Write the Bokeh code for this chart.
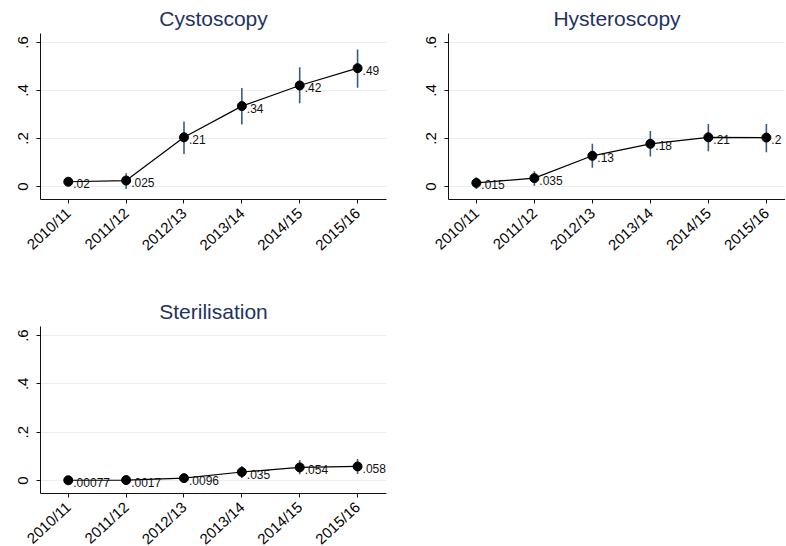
from math import pi
from bokeh.plotting import figure
from bokeh.layouts import column, row
from bokeh.models import Range1d, FixedTicker
from bokeh.embed import file_html
from bokeh.resources import INLINE
from bokeh.core.properties import value

years = ["2010/11", "2011/12", "2012/13", "2013/14", "2014/15", "2015/16"]
y_ticks = [0, 0.2, 0.4, 0.6]
y_tick_labels = ["0", ".2", ".4", ".6"]

cysto_mean = [0.020, 0.025, 0.205, 0.335, 0.421, 0.493]
cysto_lo = [0.006, -0.010, 0.136, 0.258, 0.347, 0.411]
cysto_hi = [0.034, 0.055, 0.271, 0.410, 0.497, 0.571]
cysto_lab = [".02", ".025", ".21", ".34", ".42", ".49"]

hyst_mean = [0.015, 0.035, 0.128, 0.178, 0.205, 0.204]
hyst_lo = [-0.010, 0.003, 0.078, 0.125, 0.147, 0.143]
hyst_hi = [0.039, 0.064, 0.178, 0.231, 0.261, 0.261]
hyst_lab = [".015", ".035", ".13", ".18", ".21", ".2"]

ster_mean = [0.00077, 0.0017, 0.0096, 0.035, 0.054, 0.058]
ster_lo = [-0.001, -0.002, -0.006, 0.010, 0.026, 0.027]
ster_hi = [0.003, 0.005, 0.025, 0.060, 0.084, 0.089]
ster_lab = [".00077", ".0017", ".0096", ".035", ".054", ".058"]

FONT = "Liberation Sans"
TITLE_COLOR = "#1f3262"
CI_COLOR = "#355d86"
GRID_COLOR = "#e6eff1"


def panel(title, mean, lo, hi, labels, x_end, fw, fh, bl, br, bt, bb):
    x = list(range(len(years)))
    p = figure(frame_width=fw, frame_height=fh,
               x_range=Range1d(-0.48, x_end), y_range=Range1d(-0.054, 0.6375),
               output_backend="svg", toolbar_location=None,
               min_border_left=bl, min_border_right=br,
               min_border_top=bt, min_border_bottom=bb)
    p.outline_line_color = None
    p.background_fill_color = "white"
    p.border_fill_color = "white"

    p.title.text = title
    p.title.align = "center"
    p.title.text_font = FONT
    p.title.text_font_size = "21px"
    p.title.text_font_style = "normal"
    p.title.text_color = TITLE_COLOR
    p.title.standoff = 7

    p.xgrid.grid_line_color = None
    p.ygrid.grid_line_color = GRID_COLOR
    p.ygrid.ticker = FixedTicker(ticks=y_ticks)

    p.xaxis.ticker = FixedTicker(ticks=x)
    p.xaxis.major_label_overrides = {i: yr for i, yr in enumerate(years)}
    p.xaxis.major_label_orientation = 0.74
    p.yaxis.ticker = FixedTicker(ticks=y_ticks)
    p.yaxis.major_label_overrides = dict(zip(y_ticks, y_tick_labels))
    p.yaxis.major_label_orientation = "vertical"
    for ax in (p.xaxis, p.yaxis):
        ax.axis_line_color = "#111111"
        ax.axis_line_width = 1
        ax.major_tick_line_color = "#111111"
        ax.major_tick_out = 4
        ax.major_tick_in = 0
        ax.minor_tick_line_color = None
        ax.major_label_text_font = FONT
        ax.major_label_text_font_size = "15px"
        ax.major_label_text_color = "black"
    p.xaxis.major_label_standoff = 7
    p.yaxis.major_label_standoff = 8

    p.segment(x0=x, y0=lo, x1=x, y1=hi, line_color=CI_COLOR, line_width=1.6)
    p.line(x, mean, line_color="black", line_width=1.2)
    p.scatter(x, mean, size=9, fill_color="black", line_color="black")
    p.text(x, mean, text=labels, x_offset=5, y_offset=2,
           text_baseline="middle", text_align="left",
           text_font=value(FONT), text_font_size="12px", text_color="#111111")
    return p


p1 = panel("Cystoscopy", cysto_mean, cysto_lo, cysto_hi, cysto_lab,
           5.5, 346, 166, 40, 30, 33, 91)
p2 = panel("Hysteroscopy", hyst_mean, hyst_lo, hyst_hi, hyst_lab,
           5.33, 337, 166, 32, 0, 33, 91)
p3 = panel("Sterilisation", ster_mean, ster_lo, ster_hi, ster_lab,
           5.5, 346, 167, 40, 30, 36, 52)

layout = column(row(p1, p2), p3)
open("out.html", "w").write(file_html(layout, INLINE))
